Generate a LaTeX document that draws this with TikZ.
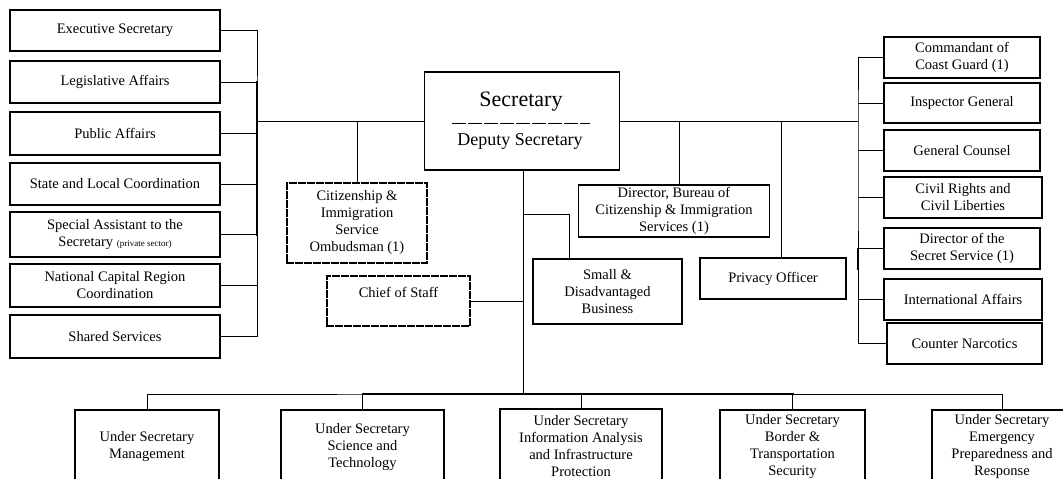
\documentclass[tikz,border=0pt]{standalone}
\usepackage{fontspec}
\setmainfont{Liberation Serif}
\usetikzlibrary{positioning}
\newcommand{\boxfont}{\fontsize{14.5}{17}\selectfont}
\tikzset{
  unit/.style={draw, line width=1.2pt, align=center, inner sep=1pt, font=\boxfont},
  adhoc/.style={unit, dash pattern=on 6pt off 3pt},
  wire/.style={line width=0.9pt},
  heavy/.style={line width=2pt}
}
\begin{document}
\begin{tikzpicture}[x=1pt, y=-1pt, line cap=rect]
        \useasboundingbox (0,0) rectangle (1063,479);
        \clip (0,0) rectangle (1063,479);
        \fill[white] (0,0) rectangle (1063,479);
        \node[unit, minimum width=195, minimum height=98] (sec) at (522,121) {};
        \node[font=\fontsize{22}{24}\selectfont] (sectitle) at (521,102) {Secretary};
        \node[font=\fontsize{18}{20}\selectfont] (deputy) at (520,141) {Deputy Secretary};
        \draw[dash pattern=on 13pt off 3pt, line width=1pt] (452,123) -- (589,123);
        \node[unit, minimum width=210, minimum height=41] (exec) at (115,30.5) {Executive Secretary};
        \node[unit, minimum width=210, minimum height=42] (legis) at (115,82) {Legislative Affairs};
        \node[unit, minimum width=210, minimum height=43] (public) at (115,133.5) {Public Affairs};
        \node[unit, minimum width=210, minimum height=42] (state) at (115,184) {State and Local Coordination};
        \node[unit, minimum width=210, minimum height=45] (special) at (115,234.5) {Special Assistant to the\\Secretary {\fontsize{9}{10}\selectfont(private sector)}};
        \node[unit, minimum width=210, minimum height=43] (ncr) at (115,285.5) {National Capital Region\\Coordination};
        \node[unit, minimum width=210, minimum height=43] (shared) at (115,336.5) {Shared Services};
        \node[adhoc, minimum width=140, minimum height=80] (omb) at (357,223) {Citizenship \&\\Immigration\\Service\\Ombudsman (1)};
        \node[adhoc, minimum width=143, minimum height=50] (chief) at (398.5,301) {Chief of Staff\\\phantom{x}};
        \node[unit, minimum width=149, minimum height=65] (small) at (607.5,291.5) {Small \&\\Disadvantaged\\Business};
        \node[unit, minimum width=191, minimum height=52] (bureau) at (674,211) {Director, Bureau of\\Citizenship \& Immigration\\Services (1)};
        \node[unit, minimum width=146, minimum height=41] (privacy) at (773,278.5) {Privacy Officer};
        \node[unit, minimum width=156, minimum height=41] (coast) at (962,57.5) {Commandant of\\Coast Guard (1)};
        \node[unit, minimum width=156, minimum height=40] (insp) at (962,103) {Inspector General};
        \node[unit, minimum width=156, minimum height=41] (counsel) at (962,150.5) {General Counsel};
        \node[unit, minimum width=158, minimum height=41] (civil) at (963,197.5) {Civil Rights and\\Civil Liberties};
        \node[unit, minimum width=156, minimum height=41] (secret) at (962,248.5) {Director of the\\Secret Service (1)};
        \node[unit, minimum width=158, minimum height=41] (intl) at (963,299.5) {International Affairs};
        \node[unit, minimum width=155, minimum height=41] (narc) at (964.5,343.5) {Counter Narcotics};
        \node[unit, minimum width=144, minimum height=74] (mgmt) at (147,447) {Under Secretary\\Management};
        \node[unit, minimum width=163, minimum height=74] (sci) at (362.5,447) {Under Secretary\\Science and\\Technology};
        \node[unit, minimum width=162, minimum height=74] (info) at (581,446) {Under Secretary\\Information Analysis\\and Infrastructure\\Protection};
        \node[unit, minimum width=145, minimum height=74] (border) at (792.5,447) {Under Secretary\\Border \&\\Transportation\\Security};
        \node[unit, minimum width=140, minimum height=74] (emerg) at (1002,447) {Under Secretary\\Emergency\\Preparedness and\\Response};
        \coordinate (lbus) at (257,121);
        \coordinate (rbus) at (858,121);
        \coordinate (bbus) at (523,394);
        \coordinate (smalltap) at (523,214);
        \draw[wire] (exec.east) -| (lbus) |- (shared.east);
        \foreach \n in {legis,public,state,special,ncr}
            \draw[wire] (\n.east) -- (\n.east -| lbus);
        \draw[heavy] (legis.east -| lbus) -- (special.east -| lbus);
        \draw[wire] (lbus) -- (sec.west);
        \draw[wire] (sec.east) -- (rbus);
        \draw[wire] (coast.west) -| (rbus) |- (narc.west);
        \foreach \n in {insp,counsel,civil,secret,intl}
            \draw[wire] (\n.west) -- (\n.west -| rbus);
        \draw[heavy] ([yshift=-20pt]secret.west -| rbus) -- (secret.west -| rbus);
        \draw[wire] (omb.north) -- (omb.north |- sec.west);
        \draw[wire] ([xshift=5pt]bureau.north) -- ([xshift=5pt]bureau.north |- sec.east);
        \draw[wire] ([xshift=8pt]privacy.north) -- ([xshift=8pt]privacy.north |- sec.east);
        \draw[wire] ([xshift=1pt]sec.south) -- (bbus);
        \draw[wire] (chief.east) -- (chief.east -| bbus);
        \draw[wire] (smalltap) -| ([xshift=-38pt]small.north);
        \draw[wire] (mgmt.north) |- (bbus) -| (emerg.north);
        \foreach \n in {sci,info,border}
            \draw[wire] (\n.north) -- (\n.north |- bbus);
        \draw[heavy] (sci.north |- bbus) -- (border.north |- bbus);
\end{tikzpicture}
\end{document}
